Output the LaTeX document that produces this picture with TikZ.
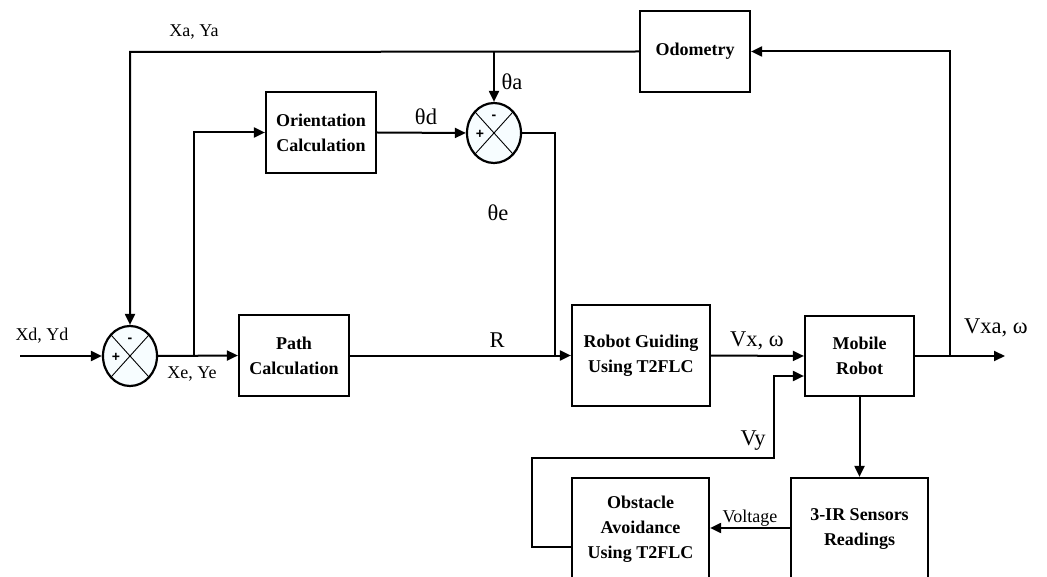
\documentclass[tikz,border=0pt]{standalone}
\usepackage{fontspec}
\setmainfont{Liberation Serif}
\newfontfamily\signfont{Liberation Sans}
\usetikzlibrary{arrows.meta,shapes.geometric,calc}
\tikzset{
  blk/.style={draw, line width=2.2pt, fill=white, align=center, inner sep=0pt,
    font=\bfseries\fontsize{18}{25}\selectfont},
  sumnode/.style={draw, ellipse, line width=2.2pt, fill=cyan!3,
    minimum width=54pt, minimum height=60pt, inner sep=0pt},
  wire/.style={line width=2pt},
  arr/.style={line width=2pt, -{Triangle[length=11pt,width=10pt]}},
  lbl/.style={font=\fontsize{18}{20}\selectfont, inner sep=0pt},
  biglbl/.style={font=\fontsize{22.5}{26}\selectfont, inner sep=0pt},
  sign/.style={font=\signfont\bfseries\fontsize{14}{15}\selectfont, inner sep=0pt}
}
\begin{document}
\begin{tikzpicture}[x=1pt,y=-1pt]
\useasboundingbox (0,0) rectangle (1047,577);
\clip (0,0) rectangle (1047,577);

% summing junctions
\node[sumnode] (s1) at (130,356) {};
\node[sumnode] (s2) at (494,133) {};
\foreach \s in {s1,s2}{
  \draw[line width=0.9pt] ([shift={(-19.1,-21.2)}]\s.center) -- ([shift={(19.1,21.2)}]\s.center);
  \draw[line width=0.9pt] ([shift={(19.1,-21.2)}]\s.center) -- ([shift={(-19.1,21.2)}]\s.center);
  \node[sign] at ([shift={(-14,1)}]\s.center) {+};
  \node[sign] at ([shift={(0,-16)}]\s.center) {-};
}

% blocks
\node[blk, minimum width=110pt, minimum height=81pt] (orient) at (321,132.5) {Orientation\\Calculation};
\node[blk, minimum width=110pt, minimum height=81pt] (odo) at (695,51.5) {Odometry};
\node[blk, minimum width=110pt, minimum height=81pt] (path) at (294,355.5) {Path\\Calculation};
\node[blk, minimum width=138pt, minimum height=101pt] (guide) at (641,355.5) {Robot Guiding\\Using T2FLC};
\node[blk, minimum width=109pt, minimum height=80pt] (robot) at (859.5,356) {Mobile\\Robot};
\node[blk, minimum width=137pt, minimum height=102pt] (avoid) at (640.5,529) {Obstacle\\Avoidance\\Using T2FLC};
\node[blk, minimum width=137pt, minimum height=102pt] (ir) at (859.5,529) {3-IR Sensors\\Readings};

% helper points of the wiring
\coordinate (in) at (20,356);
\coordinate (b1) at (194,356);
\coordinate (tl) at (130,52);
\coordinate (ta) at (494,52);
\coordinate (te) at (555,133);
\coordinate (bo) at (950,356);
\coordinate (out) at (1005,356);
\coordinate (l1) at (532,547);
\coordinate (l2) at (532,458);
\coordinate (l3) at (774,458);
\coordinate (l4) at (774,376);

% connectors
\draw[arr] (in) -- (s1.west);
\draw[arr] (s1.east) -- (path.west);
\draw[arr] (b1) |- (orient.west);
\draw[arr] (orient.east) -- (s2.west);
\draw[arr] (odo.west) -- (tl) -- (s1.north);
\draw[arr] (ta) -- (s2.north);
\draw[wire] (s2.east) -- (te) -- (te |- path.east);
\draw[arr] (path.east) -- (guide.west);
\draw[arr] (guide.east) -- (robot.west);
\draw[arr] (robot.east) -- (out);
\draw[arr] (bo) |- (odo.east);
\draw[arr] (robot.south) -- (ir.north);
\draw[arr] (ir.west |- 0,528) -- (avoid.east |- 0,528);
\draw[arr] (avoid.west |- l1) -- (l1) -- (l2) -- (l3) -- (l4) -- (robot.west |- l4);

% signal labels
\node[lbl] at (194,32) {Xa, Ya};
\node[lbl] at (42,336) {Xd, Yd};
\node[lbl] at (192,374) {Xe, Ye};
\node[lbl] at (750,518) {Voltage};
\node[biglbl] at (426,117) {θd};
\node[biglbl] at (512,82) {θa};
\node[biglbl] at (498,213) {θe};
\node[biglbl] at (497,340) {R};
\node[biglbl] at (757,341) {Vx, ω};
\node[biglbl] at (996,328) {Vxa, ω};
\node[biglbl] at (753,441) {Vy};
\end{tikzpicture}
\end{document}
